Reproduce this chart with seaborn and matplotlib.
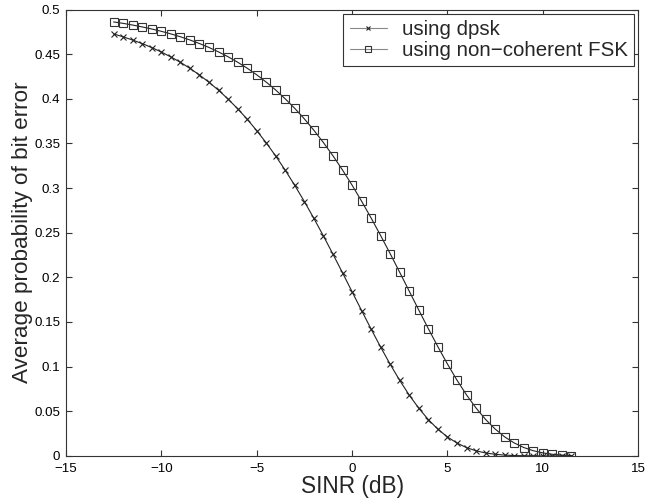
import matplotlib
matplotlib.use("Agg")
import matplotlib.pyplot as plt
import seaborn as sns
import pandas as pd

# SINR grid in dB
sinr_db = [-12.5, -12.0, -11.5, -11.0, -10.5, -10.0, -9.5, -9.0, -8.5, -8.0,
           -7.5, -7.0, -6.5, -6.0, -5.5, -5.0, -4.5, -4.0, -3.5, -3.0,
           -2.5, -2.0, -1.5, -1.0, -0.5, 0.0, 0.5, 1.0, 1.5, 2.0,
           2.5, 3.0, 3.5, 4.0, 4.5, 5.0, 5.5, 6.0, 6.5, 7.0,
           7.5, 8.0, 8.5, 9.0, 9.5, 10.0, 10.5, 11.0, 11.5]

# Average bit error probability, DPSK
pb_dpsk = [0.4727, 0.4694, 0.4658, 0.4618, 0.4574, 0.4524, 0.4469, 0.4409, 0.4341, 0.4267,
           0.4185, 0.4096, 0.3997, 0.3889, 0.3772, 0.3644, 0.3507, 0.3358, 0.3199, 0.3029,
           0.2849, 0.2660, 0.2463, 0.2259, 0.2051, 0.1839, 0.1628, 0.1420, 0.1218, 0.1025,
           0.0845, 0.0680, 0.0533, 0.0406, 0.0299, 0.0212, 0.0144, 0.0093, 0.0057, 0.0033,
           0.0018, 0.0009, 0.0004, 0.0002, 0.0001, 0.0000, 0.0000, 0.0000, 0.0000]

# Average bit error probability, non-coherent FSK
pb_fsk = [0.4861, 0.4845, 0.4826, 0.4805, 0.4782, 0.4756, 0.4727, 0.4695, 0.4659, 0.4619,
          0.4575, 0.4525, 0.4471, 0.4410, 0.4343, 0.4269, 0.4187, 0.4098, 0.3999, 0.3892,
          0.3775, 0.3647, 0.3509, 0.3361, 0.3202, 0.3033, 0.2853, 0.2664, 0.2467, 0.2264,
          0.2055, 0.1844, 0.1632, 0.1424, 0.1222, 0.1029, 0.0848, 0.0683, 0.0536, 0.0408,
          0.0301, 0.0213, 0.0145, 0.0094, 0.0058, 0.0034, 0.0018, 0.0009, 0.0004]

series_names = ["using dpsk", "using non\u2212coherent FSK"]

sns.set_theme(style="white")
plt.rcParams["font.family"] = ["Liberation Sans", "DejaVu Sans"]

fig = plt.figure(figsize=(6.46, 5.01), dpi=100)
ax = fig.add_axes([0.102, 0.090, 0.886, 0.891])

df_dpsk = pd.DataFrame({"sinr": sinr_db, "pb": pb_dpsk})
df_fsk = pd.DataFrame({"sinr": sinr_db, "pb": pb_fsk})

sns.lineplot(data=df_dpsk, x="sinr", y="pb", ax=ax, color="#222222", lw=0.8,
             marker="x", markersize=5, markeredgewidth=0.8,
             markeredgecolor="#222222", label=series_names[0])
sns.lineplot(data=df_fsk, x="sinr", y="pb", ax=ax, color="#222222", lw=0.8,
             marker="s", markersize=6, markeredgewidth=0.8,
             markerfacecolor="none", markeredgecolor="#333333",
             label=series_names[1])

ax.set_xlim(-15, 15)
ax.set_ylim(0, 0.5)
ax.set_xticks([-15, -10, -5, 0, 5, 10, 15])
ax.set_yticks([0, 0.05, 0.1, 0.15, 0.2, 0.25, 0.3, 0.35, 0.4, 0.45, 0.5])
ax.set_xticklabels(["\u221215", "\u221210", "\u22125", "0", "5", "10", "15"])
ax.set_yticklabels(["0", "0.05", "0.1", "0.15", "0.2", "0.25", "0.3",
                    "0.35", "0.4", "0.45", "0.5"])
ax.tick_params(direction="in", length=4, width=0.8, colors="#333333",
               labelcolor="black", labelsize=9.6, top=True, right=True,
               bottom=True, left=True)
ax.tick_params(axis="x", pad=5)
ax.tick_params(axis="y", pad=4)
for sp in ax.spines.values():
    sp.set_color("#333333")
    sp.set_linewidth(0.8)

ax.set_xlabel("SINR (dB)", fontsize=16.3, labelpad=0)
ax.set_ylabel("Average probability of bit error", fontsize=16.2, labelpad=1)

leg = ax.legend(loc="upper right", fontsize=14.8, frameon=True, fancybox=False,
                edgecolor="#333333", framealpha=1, borderpad=0.3,
                handlelength=1.8, handletextpad=0.75, labelspacing=0.1,
                borderaxespad=0.2, markerscale=0.7)
leg.get_frame().set_linewidth(0.8)
for h in leg.get_lines():
    h.set_color("#888888")

fig.savefig("out.png", dpi=100)
